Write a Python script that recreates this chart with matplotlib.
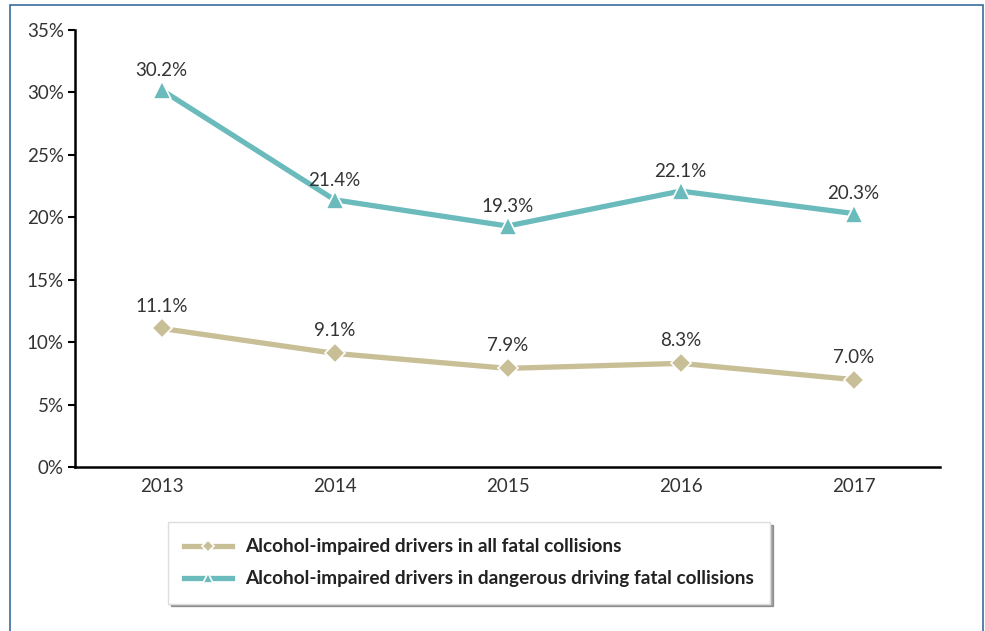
import matplotlib.pyplot as plt
from matplotlib.patches import Rectangle
from matplotlib.ticker import FuncFormatter

# Chart data
years = ["2013", "2014", "2015", "2016", "2017"]
all_fatal = [11.1, 9.1, 7.9, 8.3, 7.0]
dangerous_fatal = [30.2, 21.4, 19.3, 22.1, 20.3]
y_ticks = [0, 5, 10, 15, 20, 25, 30, 35]

TEAL = "#6bbbbd"
TAN = "#c8bf97"
TEXT = "#333333"

plt.rcParams['font.family'] = ['Lato', 'DejaVu Sans']

fig = plt.figure(figsize=(9.85, 6.31), dpi=100)
ax = fig.add_axes([75 / 985, 1 - 467 / 631, 865 / 985, 437 / 631])

x = list(range(len(years)))
ax.plot(x, all_fatal, color=TAN, lw=3.8, marker="D", markersize=10,
        markeredgecolor="white", markeredgewidth=1.2,
        label="Alcohol-impaired drivers in all fatal collisions")
ax.plot(x, dangerous_fatal, color=TEAL, lw=3.8, marker="^", markersize=13,
        markeredgecolor="white", markeredgewidth=1.2,
        label="Alcohol-impaired drivers in dangerous driving fatal collisions")

for xi, v in zip(x, all_fatal):
    ax.annotate(f"{v:.1f}%", (xi, v), xytext=(0, 10), textcoords="offset points",
                ha="center", va="bottom", fontsize=13.5, color=TEXT)
for xi, v in zip(x, dangerous_fatal):
    ax.annotate(f"{v:.1f}%", (xi, v), xytext=(0, 8), textcoords="offset points",
                ha="center", va="bottom", fontsize=13.5, color=TEXT)

ax.set_xlim(-0.5, len(years) - 0.5)
ax.set_ylim(0, 35)
ax.set_xticks(x)
ax.set_xticklabels(years)
ax.set_yticks(y_ticks)
ax.yaxis.set_major_formatter(FuncFormatter(lambda v, p: f"{v:.0f}%"))
ax.tick_params(axis="x", length=0, pad=8, labelsize=13.5, labelcolor=TEXT)
ax.tick_params(axis="y", length=5, width=1.5, pad=3, labelsize=13.5, labelcolor=TEXT)
for s in ["top", "right"]:
    ax.spines[s].set_visible(False)
ax.spines["left"].set_linewidth(1.8)
ax.spines["bottom"].set_linewidth(1.8)

leg = fig.legend(loc="upper left", bbox_to_anchor=(168 / 985, 1 - 522 / 631),
                 frameon=True, shadow=True, fancybox=False, fontsize=13.7,
                 handlelength=2.5, handletextpad=0.7, markerscale=0.6,
                 borderpad=0.85, labelspacing=0.8, borderaxespad=0,
                 edgecolor="#dddddd")
for t in leg.get_texts():
    t.set_fontweight("bold")
    t.set_color("#222222")

# outer frame
fig.patches.append(Rectangle((10 / 985, -0.1), 973 / 985, 1.1 - 5 / 631,
                             transform=fig.transFigure, fill=False,
                             edgecolor="#3a6e9e", lw=1.2))

fig.savefig("out.png", dpi=100)
